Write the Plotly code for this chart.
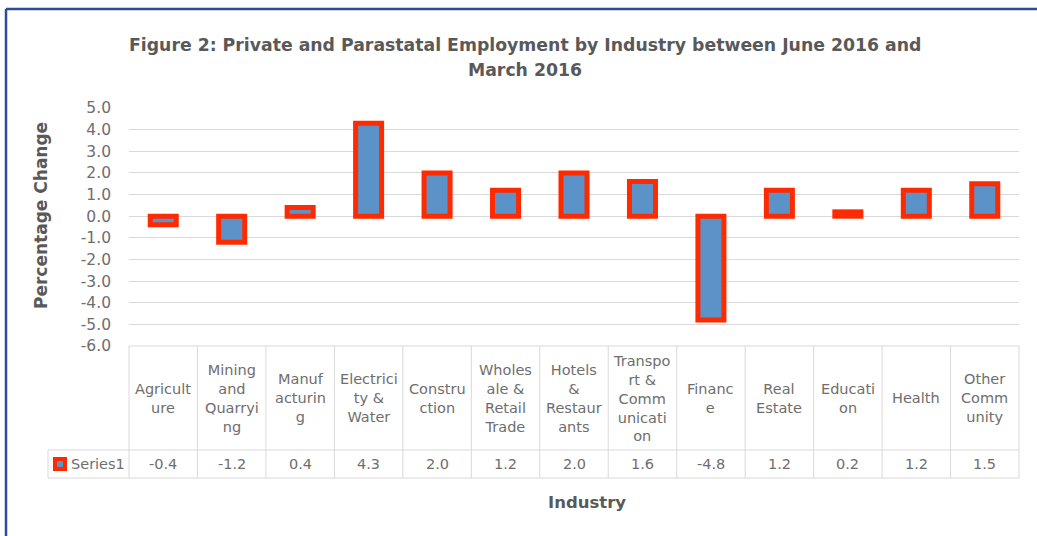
import plotly.graph_objects as go

# ---- data ----
categories = ["Agriculture", "Mining and Quarrying", "Manufacturing", "Electricity & Water",
              "Construction", "Wholesale & Retail Trade", "Hotels & Restaurants",
              "Transport & Communication", "Finance", "Real Estate", "Education",
              "Health", "Other Community"]
header_labels = ["Agricult<br>ure", "Mining<br>and<br>Quarryi<br>ng", "Manuf<br>acturin<br>g",
                 "Electrici<br>ty &<br>Water", "Constru<br>ction", "Wholes<br>ale &<br>Retail<br>Trade",
                 "Hotels<br>&<br>Restaur<br>ants", "Transpo<br>rt &<br>Comm<br>unicati<br>on",
                 "Financ<br>e", "Real<br>Estate", "Educati<br>on", "Health", "Other<br>Comm<br>unity"]
values = [-0.4, -1.2, 0.4, 4.3, 2.0, 1.2, 2.0, 1.6, -4.8, 1.2, 0.2, 1.2, 1.5]
series_name = "Series1"
y_ticks = [5, 4, 3, 2, 1, 0, -1, -2, -3, -4, -5, -6]
y_tick_labels = [f"{v:.1f}" for v in y_ticks]

title_lines = ["Figure 2: Private and Parastatal Employment by Industry between June 2016 and",
               "March 2016"]
y_title = "Percentage Change"
x_title = "Industry"

# ---- style ----
W, H = 1037, 536
L, R, T, B = 129, 1019, 108, 346
FONT = "DejaVu Sans"
GRAY = "#595959"
LGRAY = "#6E6E6E"
GRID = "#D9D9D9"
BLUE = "#5B93C9"
RED = "#FF2A00"
BORDER = "#2E4A9A"

n = len(categories)
x_idx = list(range(n))

def px_x(p):  # pixel x -> paper
    return (p - L) / (R - L)

def px_y(p):  # pixel y -> paper
    return (B - p) / (B - T)

fig = go.Figure()
fig.add_trace(go.Bar(
    x=x_idx, y=values, name=series_name, width=0.38,
    marker=dict(color=BLUE, line=dict(color=RED, width=5)),
    showlegend=False, hoverinfo="y",
))

shapes = []
# figure border (top and left)
shapes.append(dict(type="line", xref="paper", yref="paper", x0=px_x(6), x1=px_x(W + 5),
                   y0=px_y(9), y1=px_y(9), line=dict(color=BORDER, width=2.5)))
shapes.append(dict(type="line", xref="paper", yref="paper", x0=px_x(6), x1=px_x(6),
                   y0=px_y(9), y1=px_y(H + 5), line=dict(color=BORDER, width=2.5)))

# data table
y_top = 0
y_mid = px_y(450)
y_bot = px_y(478)
x_leg = px_x(48)
tl = dict(color=GRID, width=1)
shapes.append(dict(type="line", xref="paper", yref="paper", x0=0, x1=1, y0=y_top, y1=y_top, line=tl))
shapes.append(dict(type="line", xref="paper", yref="paper", x0=x_leg, x1=1, y0=y_mid, y1=y_mid, line=tl))
shapes.append(dict(type="line", xref="paper", yref="paper", x0=x_leg, x1=1, y0=y_bot, y1=y_bot, line=tl))
shapes.append(dict(type="line", xref="paper", yref="paper", x0=x_leg, x1=x_leg, y0=y_mid, y1=y_bot, line=tl))
for k in range(n + 1):
    xp = k / n
    shapes.append(dict(type="line", xref="paper", yref="paper", x0=xp, x1=xp, y0=y_top, y1=y_bot, line=tl))

# legend key
shapes.append(dict(type="rect", xref="paper", yref="paper", x0=px_x(53), x1=px_x(67),
                   y0=px_y(457), y1=px_y(471), fillcolor=RED, line=dict(width=0), layer="above"))
shapes.append(dict(type="rect", xref="paper", yref="paper", x0=px_x(57), x1=px_x(63),
                   y0=px_y(461), y1=px_y(467), fillcolor=BLUE, line=dict(width=0), layer="above"))

TF = dict(family=FONT, size=14.5, color=LGRAY)
annotations = []
for i in range(n):
    xc = (i + 0.5) / n
    annotations.append(dict(x=xc, y=(y_top + y_mid) / 2, xref="paper", yref="paper",
                            text=header_labels[i], showarrow=False, align="center",
                            xanchor="center", yanchor="middle", font=TF))
    annotations.append(dict(x=xc, y=(y_mid + y_bot) / 2, xref="paper", yref="paper",
                            text=f"{values[i]:.1f}", showarrow=False,
                            xanchor="center", yanchor="middle", font=TF))
annotations.append(dict(x=px_x(69), y=(y_mid + y_bot) / 2, xref="paper", yref="paper",
                        text=series_name, showarrow=False, xanchor="left", yanchor="middle",
                        font=TF))
annotations.append(dict(x=px_x(587), y=px_y(502), xref="paper", yref="paper",
                        text="<b>" + x_title + "</b>", showarrow=False,
                        xanchor="center", yanchor="middle",
                        font=dict(family=FONT, size=16.5, color=GRAY)))
for line, ypx in zip(title_lines, [45, 70]):
    annotations.append(dict(x=px_x(525), y=px_y(ypx), xref="paper", yref="paper",
                            text="<b>" + line + "</b>", showarrow=False,
                            xanchor="center", yanchor="middle",
                            font=dict(family=FONT, size=17.3, color=GRAY)))
annotations.append(dict(x=px_x(41), y=px_y(216), xref="paper", yref="paper",
                        text="<b>" + y_title + "</b>", showarrow=False, textangle=-90,
                        xanchor="center", yanchor="middle",
                        font=dict(family=FONT, size=17, color=GRAY)))

fig.update_layout(
    width=W, height=H, autosize=False,
    margin=dict(l=L, r=W - R, t=T, b=H - B, pad=0),
    paper_bgcolor="white", plot_bgcolor="white",
    shapes=shapes, annotations=annotations,
    xaxis=dict(range=[-0.5, n - 0.5], showticklabels=False, showgrid=False,
               zeroline=False, showline=False, ticks=""),
    yaxis=dict(range=[-6, 5], tickvals=y_ticks, ticktext=y_tick_labels,
               showgrid=True, gridcolor=GRID, gridwidth=1,
               zeroline=True, zerolinecolor=GRID, zerolinewidth=1,
               showline=False, ticks="", ticklabelstandoff=17,
               tickfont=dict(family=FONT, size=15.5, color=LGRAY)),
    bargap=0.5,
)

fig.write_html("out.html", config={"displayModeBar": False},
               post_script="document.body.style.margin='0';")
